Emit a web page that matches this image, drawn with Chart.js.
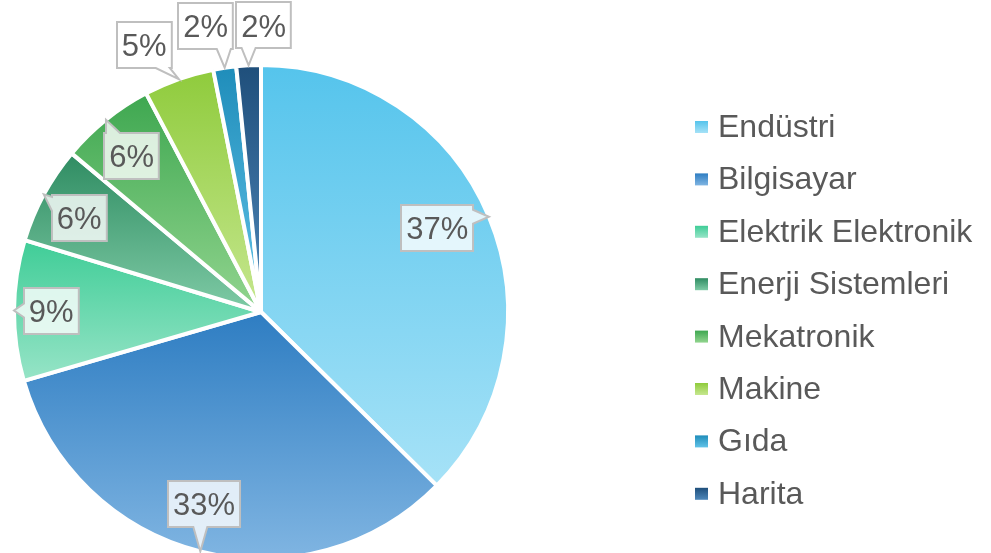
<!DOCTYPE html>
<html>
<head>
<meta charset="utf-8">
<script src="https://cdn.jsdelivr.net/npm/chart.js@4.4.0/dist/chart.umd.min.js"></script>
<style>
html, body { margin: 0; padding: 0; background: #fff; overflow: hidden; }
#wrap { width: 991px; height: 553px; overflow: hidden; position: relative; }
canvas { display: block; }
</style>
</head>
<body>
<div id="wrap"><canvas id="pieChart" width="991" height="600"></canvas></div>
<script>
// ========== Data ==========
const departments = ['Endüstri', 'Bilgisayar', 'Elektrik Elektronik', 'Enerji Sistemleri', 'Mekatronik', 'Makine', 'Gıda', 'Harita'];
const shares = [37.4, 33.1, 9.2, 6.4, 6.2, 4.6, 1.5, 1.6];

// gradient colours per slice (top -> bottom)
const topColors = ['#55c4ec', '#2e7dc2', '#3fcd97', '#2f8c62', '#3ea750', '#8fcb3c', '#1f8dba', '#1f4f7b'];
const bottomColors = ['#a6e2f7', '#80b5e2', '#97e4c7', '#7fcba6', '#92d58f', '#c6e78f', '#62c3e8', '#4f88ba'];

// callout placement: [radius factor, angle shift in degrees]
const calloutPlacement = [[0.79, -2.7], [0.81, 2.3], [0.85, 0], [0.83, -1], [0.82, -0.8], [1.18, -4.2], [1.18, -2.5], [1.16, 3.4]];

const textColor = '#595959';

function arcExtent(arc) {
    const p = arc.getProps(['x', 'y', 'startAngle', 'endAngle', 'outerRadius'], true);
    const angles = [p.startAngle, p.endAngle];
    for (let k = -2; k <= 2; k++) {
        [-Math.PI / 2, Math.PI / 2].forEach(a0 => {
            const a = a0 + 2 * Math.PI * k;
            if (a >= p.startAngle && a <= p.endAngle) angles.push(a);
        });
    }
    let top = p.y, bottom = p.y;
    angles.forEach(a => {
        const py = p.y + Math.sin(a) * p.outerRadius;
        top = Math.min(top, py);
        bottom = Math.max(bottom, py);
    });
    return { top, bottom };
}

const gradientFill = {
    id: 'gradientFill',
    beforeDatasetsDraw(chart) {
        const ctx = chart.ctx;
        chart.getDatasetMeta(0).data.forEach((arc, i) => {
            const ext = arcExtent(arc);
            const g = ctx.createLinearGradient(0, ext.top, 0, ext.bottom);
            g.addColorStop(0, topColors[i]);
            g.addColorStop(1, bottomColors[i]);
            arc.options = Object.assign({}, arc.options, { backgroundColor: g });
        });
    }
};

function clamp(v, lo, hi) { return Math.max(lo, Math.min(hi, v)); }

function calloutPath(ctx, l, t, r, b, tip) {
    const hw = 7, m = 2;
    const ox = tip.x < l ? l - tip.x : (tip.x > r ? tip.x - r : 0);
    const oy = tip.y < t ? t - tip.y : (tip.y > b ? tip.y - b : 0);
    let side = null;
    if (ox > 0 || oy > 0) {
        if (oy >= ox) side = tip.y < t ? 'top' : 'bottom';
        else side = tip.x < l ? 'left' : 'right';
    }
    ctx.beginPath();
    ctx.moveTo(l, t);
    if (side === 'top') {
        const c = clamp(tip.x, l + hw + m, r - hw - m);
        ctx.lineTo(c - hw, t); ctx.lineTo(tip.x, tip.y); ctx.lineTo(c + hw, t);
    }
    ctx.lineTo(r, t);
    if (side === 'right') {
        const c = clamp(tip.y, t + hw + m, b - hw - m);
        ctx.lineTo(r, c - hw); ctx.lineTo(tip.x, tip.y); ctx.lineTo(r, c + hw);
    }
    ctx.lineTo(r, b);
    if (side === 'bottom') {
        const c = clamp(tip.x, l + hw + m, r - hw - m);
        ctx.lineTo(c + hw, b); ctx.lineTo(tip.x, tip.y); ctx.lineTo(c - hw, b);
    }
    ctx.lineTo(l, b);
    if (side === 'left') {
        const c = clamp(tip.y, t + hw + m, b - hw - m);
        ctx.lineTo(l, c + hw); ctx.lineTo(tip.x, tip.y); ctx.lineTo(l, c - hw);
    }
    ctx.closePath();
}

const callouts = {
    id: 'callouts',
    afterDatasetsDraw(chart) {
        const ctx = chart.ctx;
        const total = shares.reduce((a, b) => a + b, 0);
        const fontSize = 31;
        ctx.save();
        ctx.font = fontSize + 'px "Liberation Sans", Arial, sans-serif';
        chart.getDatasetMeta(0).data.forEach((arc, i) => {
            const p = arc.getProps(['x', 'y', 'startAngle', 'endAngle', 'outerRadius'], true);
            const mid = (p.startAngle + p.endAngle) / 2;
            const R = p.outerRadius;
            const tip = { x: p.x + Math.cos(mid) * R, y: p.y + Math.sin(mid) * R };
            const [rf, dAng] = calloutPlacement[i];
            const a = mid + dAng * Math.PI / 180;
            const cx = p.x + Math.cos(a) * R * rf;
            const cy = p.y + Math.sin(a) * R * rf;
            const text = Math.round(shares[i] / total * 100) + '%';
            const w = ctx.measureText(text).width + 10;
            const h = 46;
            const l = Math.round(cx - w / 2), t = Math.round(cy - h / 2);
            calloutPath(ctx, l, t, l + w, t + h, tip);
            ctx.fillStyle = 'rgba(255,255,255,0.8)';
            ctx.fill();
            ctx.lineWidth = 2;
            ctx.strokeStyle = '#bfbfbf';
            ctx.stroke();
            ctx.fillStyle = textColor;
            ctx.textAlign = 'center';
            ctx.textBaseline = 'alphabetic';
            ctx.fillText(text, cx, cy + fontSize * 0.716 / 2);
        });
        ctx.restore();
    }
};

const sideLegend = {
    id: 'sideLegend',
    afterDraw(chart) {
        const ctx = chart.ctx;
        const x0 = 695, y0 = 127, step = 52.4, box = 12;
        ctx.save();
        ctx.font = '32px "Liberation Sans", Arial, sans-serif';
        ctx.textAlign = 'left';
        ctx.textBaseline = 'alphabetic';
        chart.data.labels.forEach((label, i) => {
            const y = y0 + i * step;
            const g = ctx.createLinearGradient(0, y - box / 2, 0, y + box / 2);
            g.addColorStop(0, topColors[i]);
            g.addColorStop(1, bottomColors[i]);
            ctx.fillStyle = g;
            ctx.fillRect(x0, y - box / 2, box + 1, box);
            ctx.fillStyle = textColor;
            ctx.fillText(label, x0 + 23, y + 10);
        });
        ctx.restore();
    }
};

// ========== Pie ==========
const pieCtx = document.getElementById('pieChart');
new Chart(pieCtx, {
    type: 'pie',
    data: {
        labels: departments,
        datasets: [{
            data: shares,
            backgroundColor: topColors.slice(),
            borderColor: '#ffffff',
            borderWidth: 4
        }]
    },
    options: {
        responsive: false,
        animation: false,
        layout: { padding: { left: 12, top: 63, right: 481, bottom: 39 } },
        plugins: {
            legend: { display: false },
            tooltip: { enabled: false }
        }
    },
    plugins: [gradientFill, callouts, sideLegend]
});
</script>
</body>
</html>
